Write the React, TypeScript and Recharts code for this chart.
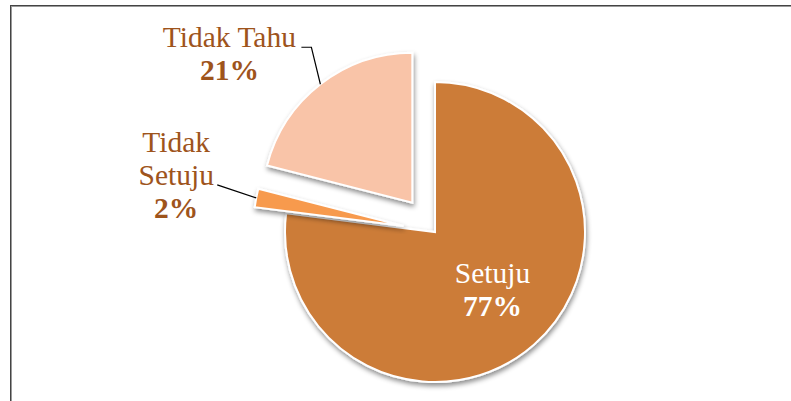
import { PieChart, Pie, Cell } from 'recharts'

const categories = ['Setuju', 'Tidak Setuju', 'Tidak Tahu']
const values = [77, 2, 21]
const colors = ['#CC7B39', '#F79A4E', '#F9C4A8']
// how far each slice is pulled out of the pie, px
const explode = [0, 32, 37]

const W = 791
const H = 401
const CX = 435
const CY = 232
const R = 150
const RAD = Math.PI / 180
const FONT = '"Liberation Serif", "Times New Roman", serif'
const FS = 29.5
const LABEL_COLOR = '#9E541C'

const data = categories.map((name, i) => ({ name, value: values[i] }))
const total = values.reduce((a, b) => a + b, 0)

// same mid angle recharts uses for startAngle=90, endAngle=-270
function midAngleOf(i: number) {
  const before = values.slice(0, i).reduce((a, b) => a + b, 0)
  return 90 - (360 * (before + values[i] / 2)) / total
}

function explodeOffset(i: number) {
  const a = -midAngleOf(i) * RAD
  return { dx: explode[i] * Math.cos(a), dy: explode[i] * Math.sin(a) }
}

const renderLabel = (props: any) => {
  const { cx, cy, midAngle, outerRadius, index, name, percent } = props
  const a = -midAngle * RAD
  const ex = cx + explode[index] * Math.cos(a)
  const ey = cy + explode[index] * Math.sin(a)
  const pct = `${Math.round(percent * 100)}%`

  if (index === 0) {
    const x = ex + 0.58 * outerRadius * Math.cos(a)
    const y = ey + 0.57 * outerRadius * Math.sin(a)
    return (
      <text x={x} y={y} textAnchor="middle" fill="#fff" fontFamily={FONT} fontSize={FS}>
        <tspan x={x} y={y - 13}>{name}</tspan>
        <tspan x={x} y={y + 20} fontWeight="bold">{pct}</tspan>
      </text>
    )
  }

  const px = ex + outerRadius * Math.cos(a)
  const py = ey + outerRadius * Math.sin(a)

  if (index === 2) {
    const ly = py - 37
    return (
      <g>
        <polyline
          points={`${px},${py} ${px - 9},${ly} ${px - 19},${ly}`}
          fill="none"
          stroke="#000"
          strokeWidth={1.2}
        />
        <text textAnchor="middle" fill={LABEL_COLOR} fontFamily={FONT} fontSize={FS}>
          <tspan x={px - 91} y={ly}>{name}</tspan>
          <tspan x={px - 91} y={ly + 33} fontWeight="bold">{pct}</tspan>
        </text>
      </g>
    )
  }

  const words = String(name).split(' ')
  const tx = px - 80
  return (
    <g>
      <polyline
        points={`${px},${py} ${px - 39},${py - 13}`}
        fill="none"
        stroke="#000"
        strokeWidth={1.2}
      />
      <text textAnchor="middle" fill={LABEL_COLOR} fontFamily={FONT} fontSize={FS}>
        <tspan x={tx} y={py - 46}>{words[0]}</tspan>
        <tspan x={tx} y={py - 13}>{words[1]}</tspan>
        <tspan x={tx} y={py + 20} fontWeight="bold">{pct}</tspan>
      </text>
    </g>
  )
}

export default function App() {
  return (
    <div style={{ position: 'absolute', left: 0, top: 0, width: W, height: H, background: '#fff', overflow: 'hidden' }}>
      <div
        style={{
          position: 'absolute',
          left: 10,
          top: 5,
          width: W,
          height: H,
          borderLeft: '1px solid #444',
          borderTop: '1px solid #444',
          boxShadow: 'inset 1px 1px 0 #9a9a9a',
        }}
      />
      <div style={{ position: 'absolute', left: 0, top: 0 }}>
        <PieChart width={W} height={H} margin={{ top: 0, right: 0, bottom: 0, left: 0 }}>
          <defs>
            <filter id="sliceShadow" x="-20%" y="-20%" width="140%" height="140%">
              <feDropShadow dx="1" dy="3" stdDeviation="2.5" floodColor="#000" floodOpacity="0.45" />
            </filter>
          </defs>
          {categories.map((_, i) => {
            const { dx, dy } = explodeOffset(i)
            return (
              <Pie
                key={i}
                data={data}
                dataKey="value"
                nameKey="name"
                cx={CX + dx}
                cy={CY + dy}
                outerRadius={R}
                startAngle={90}
                endAngle={-270}
                isAnimationActive={false}
                labelLine={false}
              >
                {data.map((_, j) => (
                  <Cell
                    key={j}
                    fill={i === j ? colors[j] : 'none'}
                    stroke={i === j ? '#fff' : 'none'}
                    strokeWidth={2}
                    style={i === j ? { filter: 'url(#sliceShadow)' } : undefined}
                  />
                ))}
              </Pie>
            )
          })}
          <Pie
            data={data}
            dataKey="value"
            nameKey="name"
            cx={CX}
            cy={CY}
            outerRadius={R}
            startAngle={90}
            endAngle={-270}
            isAnimationActive={false}
            fill="none"
            stroke="none"
            labelLine={false}
            label={renderLabel}
          >
            {data.map((_, j) => (
              <Cell key={j} fill="none" stroke="none" />
            ))}
          </Pie>
        </PieChart>
      </div>
    </div>
  )
}
